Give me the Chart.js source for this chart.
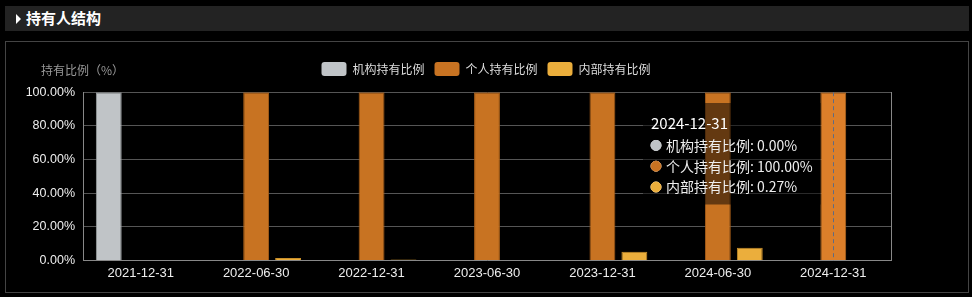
<!DOCTYPE html>
<html>
<head>
<meta charset="utf-8">
<script src="https://cdn.jsdelivr.net/npm/chart.js@4.4.1/dist/chart.umd.min.js"></script>
<style>
  html, body { margin: 0; padding: 0; background: #000; }
  body { width: 972px; height: 297px; position: relative; overflow: hidden;
         font-family: "Noto Sans CJK SC", "Noto Sans", sans-serif; }
  .head { position: absolute; left: 5px; top: 6px; width: 964px; height: 25px; background: #232323; }
  .head .tri { position: absolute; left: 11px; top: 8px; width: 0; height: 0;
               border-top: 5px solid transparent; border-bottom: 5px solid transparent; border-left: 5px solid #fff; }
  .head .txt { position: absolute; left: 21px; top: 2px; color: #fff; font-size: 15px; font-weight: bold; line-height: 20px; }
  .panel { position: absolute; left: 5px; top: 41px; width: 962px; height: 250px; border: 1px solid #444; }
  #c { position: absolute; left: 0; top: 0; }
</style>
</head>
<body>
<div class="head"><div class="tri"></div><div class="txt">持有人结构</div></div>
<div class="panel"></div>
<canvas id="c" width="972" height="297"></canvas>
<script>
// 数据 ------------------------------------------
const dates = ['2021-12-31', '2022-06-30', '2022-12-31', '2023-06-30', '2023-12-31', '2024-06-30', '2024-12-31'];
const instPct = [100, 0, 0, 0, 0, 0, 0];          // 机构持有比例
const personPct = [0, 100, 100, 100, 100, 100, 100]; // 个人持有比例
const insiderPct = [0, 1.5, 0.6, 0.3, 5.2, 7.5, 0.27]; // 内部持有比例
const yTicks = [0, 20, 40, 60, 80, 100];
const activeIndex = 6;

const font = "'Noto Sans CJK SC', 'Noto Sans', sans-serif";
const numFont = "'Liberation Sans', 'Noto Sans CJK SC', sans-serif";

// tooltip 固定位置
Chart.Tooltip.positioners.fixedBox = function () {
  return { x: 643, y: 103 };
};

// y轴名称 + 虚线指示器
const extras = {
  id: 'extras',
  afterDraw(chart) {
    const ctx = chart.ctx;
    const a = chart.chartArea;
    ctx.save();
    ctx.font = '12px ' + font;
    ctx.fillStyle = '#999';
    ctx.textBaseline = 'middle';
    ctx.fillText('持有比例（%）', 41, 70);

    const x = Math.round(chart.scales.x.getPixelForValue(activeIndex)) + 0.5;
    ctx.strokeStyle = '#5d6b85';
    ctx.lineWidth = 1;
    ctx.setLineDash([4, 3]);
    ctx.beginPath();
    ctx.moveTo(x, a.top);
    ctx.lineTo(x, a.bottom);
    ctx.stroke();
    ctx.restore();
  }
};

const chart = new Chart(document.getElementById('c'), {
  type: 'bar',
  data: {
    labels: dates,
    datasets: [
      { label: '机构持有比例', data: instPct, backgroundColor: '#c0c4c7', borderColor: '#9a9ea1', borderWidth: 1,
        hoverBackgroundColor: '#c0c4c7' },
      { label: '个人持有比例', data: personPct, backgroundColor: '#c87322', borderColor: '#a65d18', borderWidth: 1,
        hoverBackgroundColor: '#dc7f2a', hoverBorderColor: '#b86a20' },
      { label: '内部持有比例', data: insiderPct, backgroundColor: '#ebae3c', borderColor: '#c98f2a', borderWidth: 1,
        hoverBackgroundColor: '#ebae3c' }
    ]
  },
  options: {
    responsive: false,
    animation: false,
    events: [],
    categoryPercentage: 0.83,
    barPercentage: 0.81,
    layout: { padding: { left: 0, right: 0, top: 52, bottom: 11 } },
    plugins: {
      // 图例和绘图区之间的空隙
      subtitle: { display: true, text: '', weight: 500, font: { size: 1 }, padding: { top: 5, bottom: 0 } },
      legend: {
        labels: {
          color: '#ddd',
          font: { family: font, size: 12 },
          boxWidth: 25,
          boxHeight: 14,
          padding: 10,
          useBorderRadius: true,
          borderRadius: 3,
          generateLabels(chart) {
            return chart.data.datasets.map((d, i) => ({
              text: d.label, fillStyle: d.backgroundColor, strokeStyle: d.backgroundColor,
              lineWidth: 0, fontColor: '#ddd', datasetIndex: i, borderRadius: 3
            }));
          }
        }
      },
      tooltip: {
        position: 'fixedBox',
        xAlign: 'left',
        yAlign: 'top',
        caretSize: 0,
        caretPadding: 0,
        cornerRadius: 0,
        backgroundColor: 'rgba(0,0,0,0.5)',
        titleColor: '#fff',
        bodyColor: '#eee',
        titleFont: { family: font, size: 15, weight: 'normal' },
        bodyFont: { family: font, size: 14 },
        titleMarginBottom: 5,
        bodySpacing: 4,
        padding: { top: 11, left: 8, right: 8, bottom: 9 },
        usePointStyle: true,
        boxWidth: 10,
        boxHeight: 10,
        boxPadding: 3,
        callbacks: {
          label: (it) => it.dataset.label + ': ' + it.raw.toFixed(2) + '%',
          labelColor: (it) => ({ borderColor: it.dataset.backgroundColor, backgroundColor: it.dataset.backgroundColor }),
          labelPointStyle: () => ({ pointStyle: 'circle', rotation: 0 })
        }
      }
    },
    scales: {
      x: {
        grid: { display: false, drawTicks: false },
        border: { color: '#888' },
        ticks: { color: '#eee', font: { family: numFont, size: 13 }, padding: 5 }
      },
      y: {
        min: 0, max: 100,
        afterBuildTicks: (s) => { s.ticks = yTicks.map(v => ({ value: v })); },
        afterFit: (s) => { s.width = 83; },
        grid: { color: '#555', drawTicks: false },
        border: { color: '#888' },
        ticks: { color: '#eee', font: { family: numFont, size: 12.5 }, padding: 8,
                 callback: (v) => Number(v).toFixed(2) + '%' }
      },
      y2: {
        position: 'right',
        min: 0, max: 100,
        afterFit: (s) => { s.width = 81; },
        grid: { drawOnChartArea: false, drawTicks: false },
        border: { color: '#888' },
        ticks: { display: false }
      }
    }
  },
  plugins: [extras]
});

const active = [0, 1, 2].map(i => ({ datasetIndex: i, index: activeIndex }));
chart.setActiveElements(active);
chart.tooltip.setActiveElements(active, { x: 0, y: 0 });
chart.update();
</script>
</body>
</html>
